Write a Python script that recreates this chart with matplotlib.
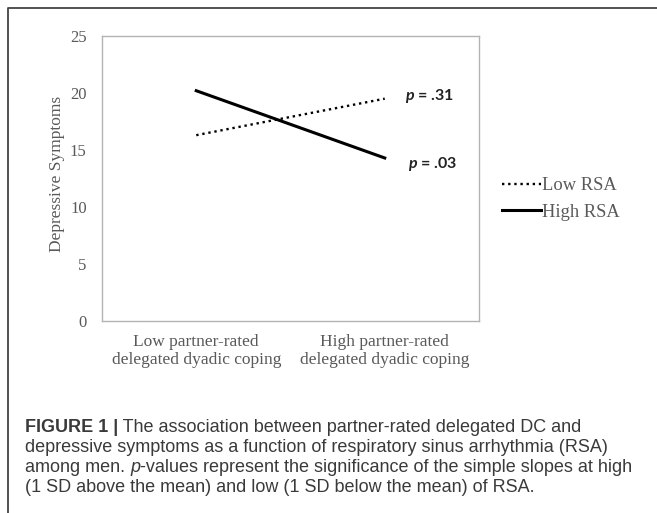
import matplotlib
matplotlib.use("Agg")
from matplotlib import pyplot as plt
from matplotlib.lines import Line2D

categories = ["Low partner-rated\ndelegated dyadic coping",
              "High partner-rated\ndelegated dyadic coping"]
low_rsa = [16.3, 19.5]
high_rsa = [20.2, 14.3]
p_labels = ["$p$ = .31", "$p$ = .03"]
y_ticks = [0, 5, 10, 15, 20, 25]

caption_lines = [
    "depressive symptoms as a function of respiratory sinus arrhythmia (RSA)",
    "-values represent the significance of the simple slopes at high",
    "(1 SD above the mean) and low (1 SD below the mean) of RSA.",
]

plt.rcParams['mathtext.fontset'] = 'custom'
plt.rcParams['mathtext.it'] = 'Lato:italic:bold'
plt.rcParams['mathtext.rm'] = 'Lato:bold'

serif = "Liberation Serif"
grey = "#595959"

fig = plt.figure(figsize=(6.57, 5.13), dpi=100)
ax = fig.add_axes([102 / 657, 1 - 321 / 513, 377 / 657, 285 / 513])

x = list(range(len(categories)))
ax.plot(x, low_rsa, color="black", lw=1.7, ls=(0, (1, 1.6)), label="Low RSA")
ax.plot(x, high_rsa, color="black", lw=2.2, ls="-", label="High RSA")

ax.annotate(p_labels[0], xy=(x[1], low_rsa[1]), xytext=(20, 3),
            textcoords="offset pixels", ha="left", va="center", fontsize=11.5,
            fontfamily="Lato", fontweight="bold", color="#222222")
ax.annotate(p_labels[1], xy=(x[1], high_rsa[1]), xytext=(23, -6),
            textcoords="offset pixels", ha="left", va="center", fontsize=11.5,
            fontfamily="Lato", fontweight="bold", color="#222222")

ax.set_xlim(-0.5, 1.5)
ax.set_ylim(0, 25)
ax.set_yticks(y_ticks)
ax.set_xticks(x)
ax.set_xticklabels(categories, fontfamily=serif, fontsize=12.5, color=grey)
ax.set_yticklabels([str(t) for t in y_ticks], fontfamily=serif, fontsize=12,
                   color=grey)
ax.tick_params(axis="x", length=0, pad=9)
ax.tick_params(axis="y", length=0, pad=11)
for s in ax.spines.values():
    s.set_color("#b3b3b3")
    s.set_linewidth(1.0)

ax.set_ylabel("Depressive Symptoms", fontfamily=serif, fontsize=12.5, color=grey)
ax.yaxis.set_label_coords(-0.098, 0.516)

leg = fig.legend(loc="center left", bbox_to_anchor=(502 / 657, 1 - 199 / 513),
                 frameon=False, borderpad=0, borderaxespad=0, handlelength=2.1,
                 handletextpad=0.05, labelspacing=0.5,
                 prop={"family": serif, "size": 13.3})
for t in leg.get_texts():
    t.set_color(grey)

# outer panel border (left and top edges)
fig.add_artist(Line2D([8 / 657, 8 / 657, 1.01], [-0.01, 1 - 8 / 513, 1 - 8 / 513],
                      color="#444444", lw=1.3, transform=fig.transFigure))

# caption
cap = dict(fontfamily="Liberation Sans", fontsize=13.0, color="#3a3a3a",
           va="center", ha="left")
renderer = fig.canvas.get_renderer()
y0 = 1 - 428 / 513
dy = 20 / 513
t1 = fig.text(25 / 657, y0, "FIGURE 1 |", fontweight="bold", **cap)
x1 = fig.transFigure.inverted().transform(
    (t1.get_window_extent(renderer).x1, 0))[0]
fig.text(x1, y0, " The association between partner-rated delegated DC and", **cap)
fig.text(25 / 657, y0 - dy, caption_lines[0], **cap)
t3 = fig.text(25 / 657, y0 - 2 * dy, "among men. ", **cap)
x3 = fig.transFigure.inverted().transform(
    (t3.get_window_extent(renderer).x1, 0))[0]
t4 = fig.text(x3, y0 - 2 * dy, "p", fontstyle="italic", **cap)
x4 = fig.transFigure.inverted().transform(
    (t4.get_window_extent(renderer).x1, 0))[0]
fig.text(x4, y0 - 2 * dy, caption_lines[1], **cap)
fig.text(25 / 657, y0 - 3 * dy, caption_lines[2], **cap)

fig.savefig("out.png", dpi=100)
